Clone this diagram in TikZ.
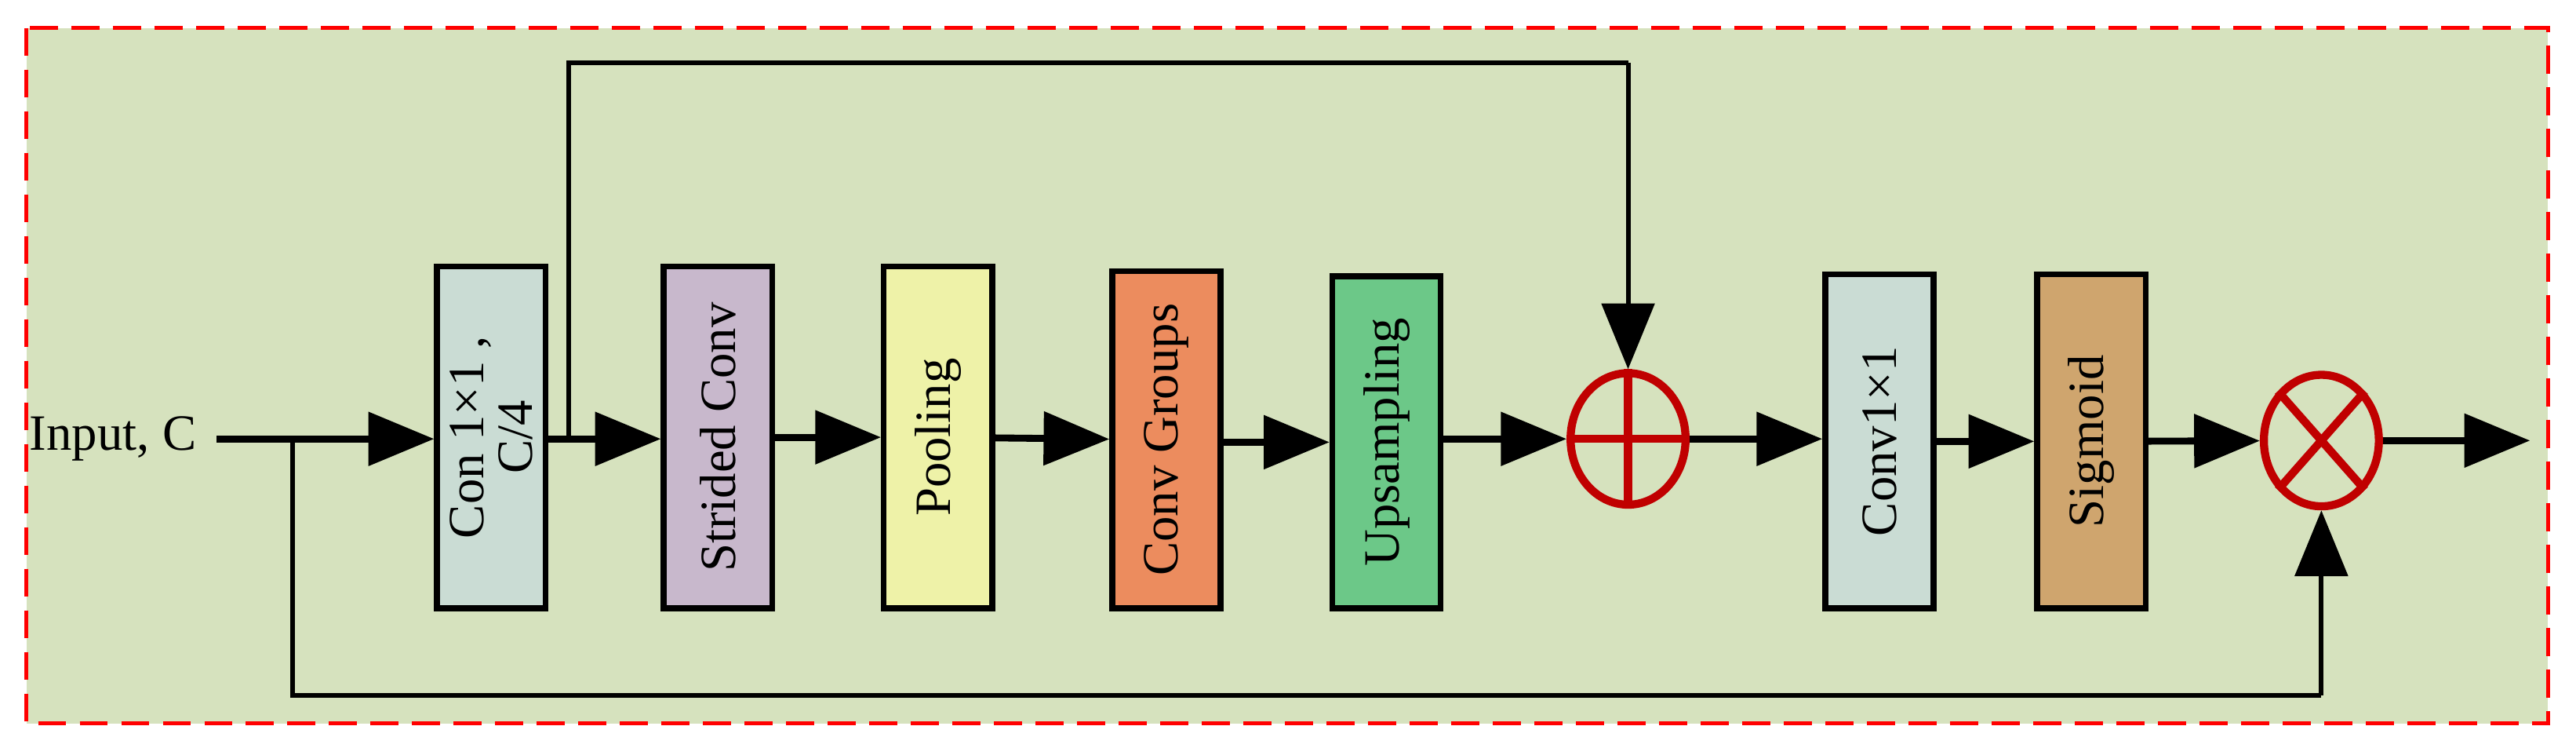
\documentclass[tikz,border=0pt]{standalone}
\usepackage{fontspec}
\setmainfont{Liberation Serif}
\usetikzlibrary{arrows.meta,shapes.geometric}
\definecolor{bg}{HTML}{D6E2BE}
\definecolor{cA}{HTML}{CADCD4}
\definecolor{cB}{HTML}{C8B8CC}
\definecolor{cC}{HTML}{EEF2A8}
\definecolor{cD}{HTML}{EC8C5E}
\definecolor{cE}{HTML}{6CC888}
\definecolor{cF}{HTML}{CFA56E}
\definecolor{dred}{HTML}{C00000}
\begin{document}
\begin{tikzpicture}[x=0.05cm,y=-0.05cm,
  box/.style={draw=black,line width=5pt,minimum width=66*0.05cm,inner sep=0pt,font=\fontsize{44}{46}\selectfont},
  arr/.style={line width=6pt,-{Triangle[length=40*0.05cm,width=32*0.05cm]}},
  thin/.style={line width=4pt},
  op/.style={ellipse,draw=dred,line width=7pt,minimum width=70*0.05cm,minimum height=80*0.05cm,inner sep=0pt}]
\useasboundingbox (0,0) rectangle (1568,455);
\draw[red,dashed,line width=3.2pt,dash pattern=on 24pt off 12pt,fill=bg] (16,17) rectangle (1551,440);
\node[font=\fontsize{44}{46}\selectfont,anchor=west,inner sep=0pt] (in) at (18,267) {Input, C};
\coordinate (s) at (132,267);
\coordinate (b1) at (178,267);
\node[box,fill=cA,minimum height=208*0.05cm,align=center] (a) at (299,266) {\rotatebox{90}{\parbox{8cm}{\centering Con 1×1 ,\\[-4pt] C/4}}};
\node[box,fill=cB,minimum height=208*0.05cm] (b) at (437,266) {\rotatebox{90}{Strided Conv}};
\node[box,fill=cC,minimum height=208*0.05cm] (c) at (571,266) {\rotatebox{90}{Pooling}};
\node[box,fill=cD,minimum height=205*0.05cm] (d) at (710,267.5) {\rotatebox{90}{Conv Groups}};
\node[box,fill=cE,minimum height=202*0.05cm] (e) at (844,269) {\rotatebox{90}{Upsampling}};
\node[op] (p) at (991,267) {};
\draw[dred,line width=7pt] (p.north)--(p.south) (p.west)--(p.east);
\node[box,fill=cA,minimum height=203*0.05cm] (f) at (1144,268.5) {\rotatebox{90}{Conv1×1}};
\node[box,fill=cF,minimum height=203*0.05cm] (g) at (1273,268.5) {\rotatebox{90}{Sigmoid}};
\node[op] (m) at (1413,268) {};
\draw[dred,line width=7pt] (m.north west)--(m.south east) (m.north east)--(m.south west);
\coordinate (o) at (1540,268);
\coordinate (t1) at (346,267);
\draw[arr] (s)--(a.west |- s);
\draw[arr] (a.east |- s)--(b.west |- s);
\draw[arr] (b)--(c);
\draw[arr] (c)--(d);
\draw[arr] (d.east |- e)--(e);
\draw[arr] (e.east |- p)--(p);
\draw[arr] (p)--(f.west |- p);
\draw[arr] (f)--(g);
\draw[arr] (g)--(m);
\draw[arr] (m)--(o);
\draw[thin] (t1)--(346,38)--(991,38);
\draw[arr,line width=4pt] (991,38)--(p.north);
\draw[thin] (b1)--(178,423)--(1413,423);
\draw[arr,line width=4pt] (1413,423)--(m.south);
\end{tikzpicture}
\end{document}
